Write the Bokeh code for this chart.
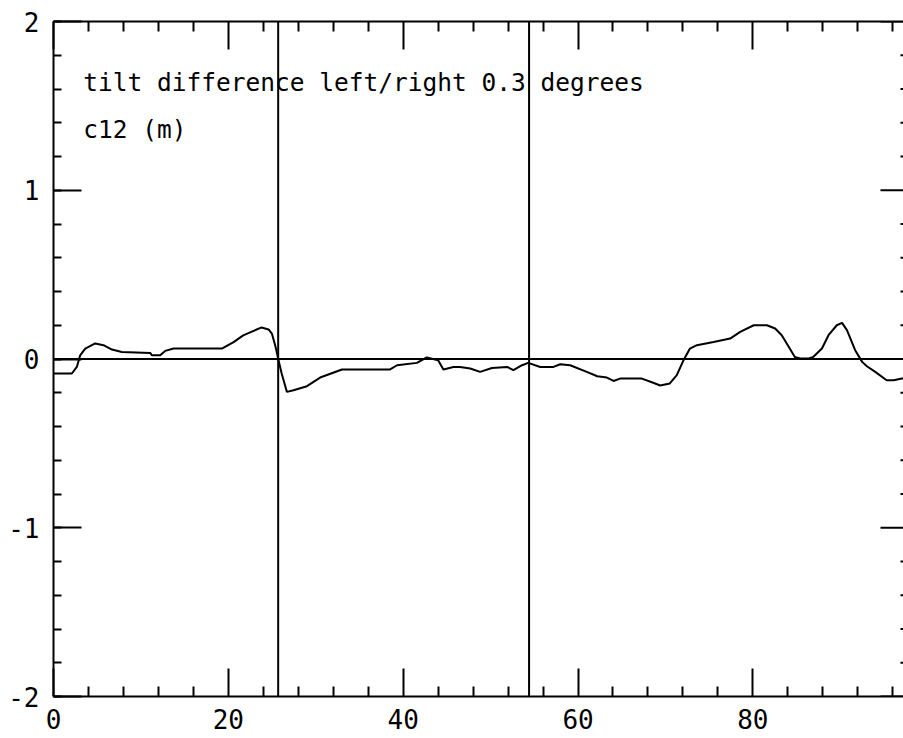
from bokeh.plotting import figure
from bokeh.models import Range1d, LinearAxis, FixedTicker, Span
from bokeh.core.properties import value
from bokeh.embed import file_html
from bokeh.resources import INLINE

# data
xs = [0.0, 2.1, 2.67, 3.05, 3.63, 4.77, 5.72, 6.68, 7.82, 11.06, 11.25, 12.2, 12.78, 13.73,
      19.26, 20.6, 21.7, 22.9, 23.8, 24.6, 24.98, 25.4, 25.74, 26.1, 26.7, 27.45, 28.99,
      30.5, 33.0, 38.5, 39.3, 41.57, 42.7, 44.0, 44.6, 45.75, 46.5, 47.67, 48.8, 50.15,
      51.9, 52.6, 53.6, 54.3, 55.67, 57.2, 57.96, 59.1, 61.0, 62.2, 63.3, 64.06, 64.8,
      67.3, 68.6, 69.4, 70.5, 71.3, 72.07, 72.8, 73.6, 75.5, 77.4, 78.55, 80.1, 81.6,
      82.55, 83.3, 84.1, 84.8, 85.4, 86.4, 86.9, 87.9, 88.65, 89.6, 90.2, 90.76, 91.7,
      92.5, 93.04, 94.0, 95.3, 96.1, 97.05, 97.3]
ys = [-0.086, -0.086, -0.047, 0.022, 0.062, 0.092, 0.082, 0.056, 0.042, 0.036, 0.022, 0.022,
      0.048, 0.062, 0.062, 0.10, 0.14, 0.167, 0.187, 0.175, 0.151, 0.072, -0.007, -0.086,
      -0.195, -0.185, -0.161, -0.11, -0.062, -0.062, -0.037, -0.023, 0.009, -0.007,
      -0.062, -0.047, -0.047, -0.056, -0.076, -0.053, -0.047, -0.066, -0.037, -0.023,
      -0.047, -0.047, -0.031, -0.037, -0.076, -0.102, -0.11, -0.13, -0.116, -0.116,
      -0.141, -0.157, -0.145, -0.096, -0.007, 0.062, 0.082, 0.101, 0.121, 0.161, 0.2,
      0.2, 0.181, 0.141, 0.072, 0.012, 0.003, 0.003, 0.012, 0.062, 0.141, 0.2, 0.214,
      0.171, 0.052, -0.017, -0.043, -0.076, -0.126, -0.126, -0.116, -0.116]
vlines = [25.7, 54.4]
x_major = [0, 20, 40, 60, 80]
x_minor = [4, 8, 12, 16, 24, 28, 32, 36, 44, 48, 52, 56, 64, 68, 72, 76, 84, 88, 92, 96]
y_major = [-2, -1, 0, 1, 2]
y_minor = [round(-2 + 0.2 * i, 1) for i in range(21)]
x_labels = {0: "0", 20: "20", 40: "40", 60: "60", 80: "80"}
y_labels = {-2: "-2", -1: "-1", 0: "0", 1: "1", 2: "2"}
note1 = "tilt difference left/right 0.3 degrees"
note2 = "c12 (m)"

X_END = 97.23
X_BORDER = 97.8  # virtual right border (outside window)
PX_X = 850 / X_END

p = figure(width=903, height=738, output_backend="svg", toolbar_location=None,
           x_range=Range1d(0, X_END), y_range=Range1d(-2, 2),
           x_axis_location=None, y_axis_location=None,
           min_border_left=53, min_border_right=0, min_border_top=21, min_border_bottom=42)
p.grid.visible = False
p.outline_line_color = None
p.background_fill_color = "white"
p.border_fill_color = "white"

font = "DejaVu Sans Mono"

def style(ax, labels=True, minor_len=8):
    ax.axis_line_color = "black"
    ax.axis_line_width = 2
    ax.major_tick_line_color = "black"
    ax.major_tick_line_width = 2
    ax.minor_tick_line_color = "black"
    ax.minor_tick_line_width = 2
    ax.major_tick_in = 28
    ax.major_tick_out = 0
    ax.minor_tick_in = minor_len
    ax.minor_tick_out = 0
    ax.major_label_text_font = font
    ax.major_label_text_font_size = "26px"
    ax.major_label_text_color = "black"
    if not labels:
        ax.major_label_text_font_size = "0px"

xt = FixedTicker(ticks=x_major, minor_ticks=x_minor)
yt = FixedTicker(ticks=y_major, minor_ticks=y_minor)

bx = LinearAxis(ticker=xt, major_label_overrides=x_labels, major_label_standoff=12)
style(bx, minor_len=10)
p.add_layout(bx, "below")
tx = LinearAxis(ticker=xt, major_label_overrides={k: "" for k in x_major})
style(tx, labels=False, minor_len=10)
p.add_layout(tx, "above")
ly = LinearAxis(ticker=yt, major_label_overrides=y_labels, major_label_standoff=14)
style(ly)
p.add_layout(ly, "left")

# right-side ticks (the right border lies just outside the window)
maj_len = 28 / PX_X
min_len = 8 / PX_X
ymin_only = [v for v in y_minor if v not in y_major]
p.segment(x0=[X_BORDER - maj_len] * len(y_major), y0=y_major,
          x1=[X_BORDER] * len(y_major), y1=y_major, line_color="black", line_width=2)
p.segment(x0=[X_BORDER - min_len] * len(ymin_only), y0=ymin_only,
          x1=[X_BORDER] * len(ymin_only), y1=ymin_only, line_color="black", line_width=2)

p.add_layout(Span(location=0, dimension="width", line_color="black", line_width=2))
for v in vlines:
    p.add_layout(Span(location=v, dimension="height", line_color="black", line_width=2))

p.line(xs, ys, line_color="black", line_width=2)

p.text(x=[3.4], y=[1.64], text=[note1], text_font=value(font), text_font_size="24.5px",
       text_color="black", text_baseline="alphabetic", text_align="left")
p.text(x=[3.4], y=[1.362], text=[note2], text_font=value(font), text_font_size="24.5px",
       text_color="black", text_baseline="alphabetic", text_align="left")

open("out.html", "w").write(file_html(p, INLINE))
